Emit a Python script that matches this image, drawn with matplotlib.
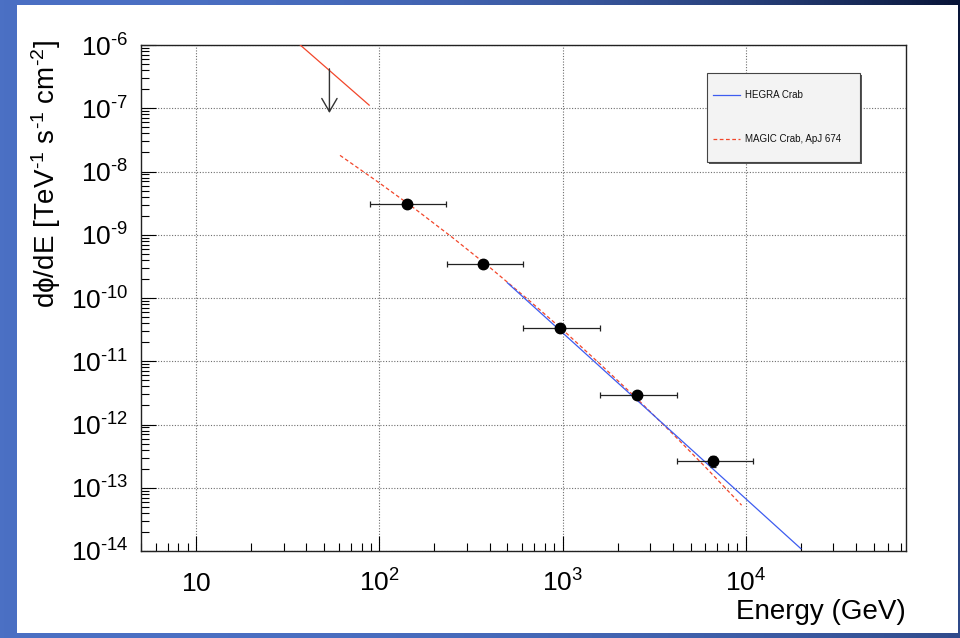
import numpy as np
import matplotlib
matplotlib.use("Agg")
import matplotlib.pyplot as plt
from matplotlib.ticker import LogLocator, NullFormatter
from matplotlib.patches import Rectangle
from matplotlib.lines import Line2D

plt.rcParams['font.family'] = ['Liberation Sans', 'DejaVu Sans']
plt.rcParams['mathtext.fontset'] = 'custom'
plt.rcParams['mathtext.rm'] = 'Liberation Sans'
plt.rcParams['mathtext.it'] = 'Liberation Sans:italic'
plt.rcParams['mathtext.bf'] = 'Liberation Sans:bold'

# ---------------- data ----------------
energy = [142, 369, 970, 2535, 6670]                     # GeV
flux = [3.06e-9, 3.45e-10, 3.36e-11, 2.92e-12, 2.65e-13]
energy_lo = [89, 235, 611, 1610, 4240]
energy_hi = [232, 611, 1600, 4240, 11000]
flux_err = [0.2e-9, 0.2e-10, 0.2e-11, 0.25e-12, 0.5e-13]

ul_energy = 53.4
ul_top = 4.2e-7
ul_tip = 8.4e-8

ul_line_energy = [37, 88]
ul_line_flux = [1.0e-6, 1.12e-7]

magic_energy = [61, 100, 150, 250, 400, 650, 1000, 1600, 2500, 4000, 6000, 9500]
magic_flux = [1.8e-8, 6.6e-9, 2.82e-9, 9.1e-10, 3.06e-10, 9.4e-11, 3.16e-11,
              9.1e-12, 2.70e-12, 7.1e-13, 2.15e-13, 5.3e-14]

hegra_energy = [500, 20000]
hegra_flux = [1.74e-10, 1.09e-14]

x_ticks = [10, 100, 1000, 10000]
x_ticklabels = [r'$\mathregular{10}$', r'$\mathregular{10^{2}}$',
                r'$\mathregular{10^{3}}$', r'$\mathregular{10^{4}}$']
y_exponents = [-14, -13, -12, -11, -10, -9, -8, -7, -6]

legend_labels = ['HEGRA Crab', 'MAGIC Crab, ApJ 674']

# ---------------- figure ----------------
W, H = 960, 638
fig = plt.figure(figsize=(W / 100, H / 100), dpi=100)

# slide-like blue background
bg = fig.add_axes([0, 0, 1, 1], zorder=-10)
xx, yy = np.meshgrid(np.linspace(0, 1, 240), np.linspace(0, 1, 160))
d = np.clip(xx ** 2.5 * (1 - 0.6 * yy), 0, 1)[..., None]
light = np.array([75, 112, 196]) / 255.0
dark = np.array([8, 20, 55]) / 255.0
img = light * (1 - d) + dark * d
bg.imshow(img, extent=[0, 1, 0, 1], aspect='auto', origin='upper')
bg.add_patch(Rectangle((17 / W, 5 / H), (958 - 17) / W, (633 - 5) / H,
                       transform=bg.transAxes, facecolor='white', edgecolor='none'))
bg.set_xlim(0, 1)
bg.set_ylim(0, 1)
bg.axis('off')

ax = fig.add_axes([141 / W, 1 - 551 / H, 765 / W, 506 / H])
ax.set_facecolor('white')
ax.set_xscale('log')
ax.set_yscale('log')
ax.set_xlim(5, 75000)
ax.set_ylim(1e-14, 1e-6)

ax.grid(True, which='major', linestyle=(0, (1, 1.5)), color='#6e6e6e', linewidth=0.8)

red = '#f2462a'
blue = '#3d5cf0'
magic_style = (0, (3, 2))

# MAGIC Crab (dashed red)
ax.plot(magic_energy, magic_flux, color=red, linestyle=magic_style, linewidth=0.9, zorder=3)
# HEGRA Crab (solid blue)
ax.plot(hegra_energy, hegra_flux, color=blue, linewidth=0.9, zorder=4)
# upper-limit line (solid red)
ax.plot(ul_line_energy, ul_line_flux, color=red, linewidth=0.9, zorder=3)

# data points
xerr = [np.array(energy) - np.array(energy_lo), np.array(energy_hi) - np.array(energy)]
ax.errorbar(energy, flux, xerr=xerr, yerr=flux_err, fmt='o', color='black',
            markersize=7.5, elinewidth=0.9, ecolor='#222222', capsize=2.2, capthick=0.9, zorder=5)

# upper limit arrow
ax.annotate('', xy=(ul_energy, ul_tip), xytext=(ul_energy, ul_top),
            arrowprops=dict(arrowstyle='->,head_length=0.95,head_width=0.55',
                            mutation_scale=10, lw=1.0, color='#333333',
                            shrinkA=0, shrinkB=0), zorder=6)

# ticks
ax.set_xticks(x_ticks)
ax.set_xticklabels(x_ticklabels)
ax.set_yticks([10.0 ** e for e in y_exponents])
ax.set_yticklabels([r'$\mathregular{10^{\text{-}%d}}$' % (-e) for e in y_exponents])
ax.xaxis.set_minor_locator(LogLocator(base=10, subs=np.arange(2, 10), numticks=100))
ax.yaxis.set_minor_locator(LogLocator(base=10, subs=np.arange(2, 10), numticks=100))
ax.xaxis.set_minor_formatter(NullFormatter())
ax.yaxis.set_minor_formatter(NullFormatter())
ax.tick_params(which='both', direction='in', top=False, right=False, color='black', width=0.8)
ax.tick_params(which='major', length=11)
ax.tick_params(which='minor', length=5.5)
ax.tick_params(axis='x', which='major', labelsize=19, pad=29)
ax.tick_params(axis='y', which='major', labelsize=19, pad=9)
for lbl in ax.get_xticklabels():
    lbl.set_verticalalignment('baseline')
for sp in ax.spines.values():
    sp.set_color('#222222')
    sp.set_linewidth(1.0)

# axis titles
fig.text(906 / W, 1 - 612 / H, 'Energy (GeV)', ha='right', va='center', fontsize=20)
fig.text(46 / W, 1 - 40 / H,
         r'$\mathregular{d\phi/dE\ [TeV^{\text{-}1}\ s^{\text{-}1}\ cm^{\text{-}2}]}$',
         rotation=90, ha='center', va='top', fontsize=20)

# legend (ROOT-style box with shadow)
def fx(px):
    return px / W

def fy(py):
    return 1 - py / H

lx0, ly0, lx1, ly1 = 707, 73, 860, 162
fig.add_artist(Rectangle((fx(lx0 + 2), fy(ly1 + 2)), fx(lx1 - lx0), (ly1 - ly0) / H,
                         transform=fig.transFigure, facecolor='#555555', edgecolor='none',
                         zorder=10))
fig.add_artist(Rectangle((fx(lx0), fy(ly1)), fx(lx1 - lx0), (ly1 - ly0) / H,
                         transform=fig.transFigure, facecolor='#f3f3f3', edgecolor='#444444',
                         linewidth=0.8, zorder=11))
entry_rows = [95, 139]
entry_colors = [blue, red]
entry_styles = ['-', magic_style]
for row, lab, col, sty in zip(entry_rows, legend_labels, entry_colors, entry_styles):
    fig.add_artist(Line2D([fx(713), fx(740)], [fy(row), fy(row)], transform=fig.transFigure,
                          color=col, linestyle=sty, linewidth=0.9, zorder=12))
    fig.text(fx(745), fy(row), lab, ha='left', va='center', fontsize=7, color='#111111',
             zorder=12)

fig.savefig('out.png', dpi=100)
